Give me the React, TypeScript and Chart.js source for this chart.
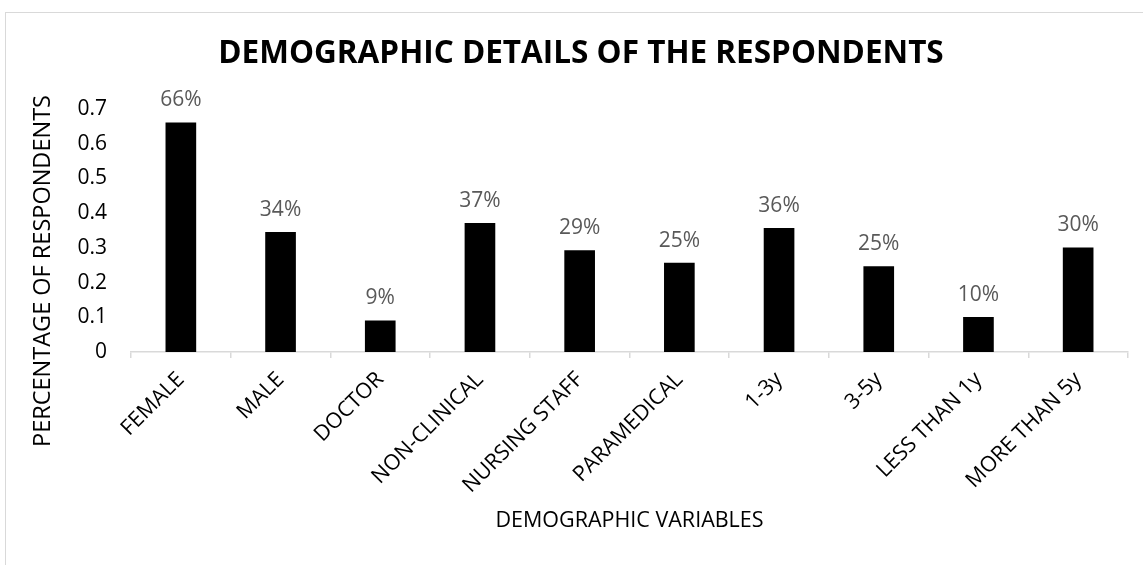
import React, { useEffect, useRef } from "react";
import { Chart, registerables } from "chart.js";

Chart.register(...registerables);

const categories = [
  "FEMALE",
  "MALE",
  "DOCTOR",
  "NON-CLINICAL",
  "NURSING STAFF",
  "PARAMEDICAL",
  "1-3y",
  "3-5y",
  "LESS THAN 1y",
  "MORE THAN 5y",
];
const values = [0.66, 0.345, 0.09, 0.371, 0.292, 0.256, 0.356, 0.246, 0.1, 0.3];
const valueLabels = ["66%", "34%", "9%", "37%", "29%", "25%", "36%", "25%", "10%", "30%"];
const yTicks = [0, 0.1, 0.2, 0.3, 0.4, 0.5, 0.6, 0.7];

const chartTitle = "DEMOGRAPHIC DETAILS OF THE RESPONDENTS";
const xTitle = "DEMOGRAPHIC VARIABLES";
const yTitle = "PERCENTAGE OF RESPONDENTS";

const FONT = "'Open Sans', sans-serif";

const textPlugin = {
  id: "texts",
  afterDraw(chart: any) {
    const ctx = chart.ctx;
    const area = chart.chartArea;
    ctx.save();
    ctx.fillStyle = "#000";
    ctx.font = `bold 31.5px ${FONT}`;
    ctx.textAlign = "center";
    ctx.textBaseline = "middle";
    ctx.fillText(chartTitle, 581, 54);
    ctx.font = `21.5px ${FONT}`;
    ctx.fillText(xTitle, (area.left + area.right) / 2, 521);
    ctx.font = `23.5px ${FONT}`;
    ctx.translate(43, 271);
    ctx.rotate(-Math.PI / 2);
    ctx.fillText(yTitle, 0, 0);
    ctx.restore();
  },
  afterDatasetsDraw(chart: any) {
    const ctx = chart.ctx;
    const meta = chart.getDatasetMeta(0);
    ctx.save();
    ctx.fillStyle = "#595959";
    ctx.font = `21px ${FONT}`;
    ctx.textAlign = "center";
    ctx.textBaseline = "bottom";
    meta.data.forEach((el: any, i: number) => {
      ctx.fillText(valueLabels[i], el.x, el.y - 12);
    });
    ctx.restore();
  },
};

export default function App() {
  const ref = useRef<HTMLCanvasElement>(null);
  useEffect(() => {
    const chart = new Chart(ref.current!, {
      type: "bar",
      data: {
        labels: categories,
        datasets: [
          {
            data: values,
            backgroundColor: "#000",
            barThickness: 30,
          },
        ],
      },
      plugins: [textPlugin],
      options: {
        animation: false,
        responsive: false,
        devicePixelRatio: 1,
        layout: { padding: { left: 71, top: 109, right: 15, bottom: 63 } },
        plugins: { legend: { display: false }, tooltip: { enabled: false }, title: { display: false } },
        scales: {
          x: {
            offset: true,
            grid: {
              display: true,
              offset: true,
              drawOnChartArea: false,
              drawTicks: true,
              tickLength: 6,
              color: "#d9d9d9",
              lineWidth: 1.5,
            },
            border: { display: true, color: "#d9d9d9", width: 1.5 },
            ticks: {
              color: "#000",
              font: { family: FONT, size: 21.5 },
              minRotation: 45,
              maxRotation: 45,
              autoSkip: false,
              padding: 9,
            },
            afterFit(scale: any) {
              scale.height = 150;
            },
          },
          y: {
            min: 0,
            max: 0.7,
            afterBuildTicks(scale: any) {
              scale.ticks = yTicks.map((v) => ({ value: v }));
            },
            grid: { display: false },
            border: { display: false },
            ticks: {
              color: "#000",
              font: { family: FONT, size: 21 },
              padding: 16,
              callback: (v: any) => String(Math.round(Number(v) * 10) / 10),
            },
            afterFit(scale: any) {
              scale.width = 60;
            },
          },
        },
      },
    });
    return () => chart.destroy();
  }, []);
  return (
    <div style={{ position: "fixed", left: 0, top: 0, width: 1143, height: 565, background: "#fff" }}>
      <div
        style={{
          position: "absolute",
          left: 5,
          top: 12,
          width: 1150,
          height: 570,
          border: "1px solid #d9d9d9",
          boxSizing: "border-box",
        }}
      />
      <canvas ref={ref} width={1143} height={565} style={{ position: "absolute", left: 0, top: 0 }} />
    </div>
  );
}
